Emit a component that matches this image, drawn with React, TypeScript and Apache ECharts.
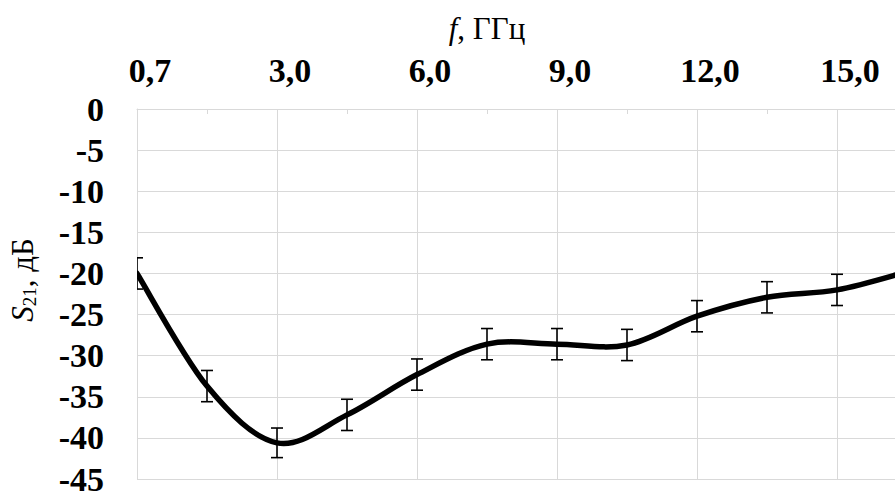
import React, { useEffect, useRef } from "react";
import * as echarts from "echarts";

const categories = ["0,7", "1,85", "3,0", "4,5", "6,0", "7,5", "9,0", "10,5", "12,0", "13,5", "15,0", "16,5"];
const s21 = [-20.0, -33.7, -40.6, -37.2, -32.3, -28.6, -28.6, -28.7, -25.2, -22.9, -22.0, -19.8];
const errors = [1.9, 1.9, 1.8, 1.9, 1.9, 1.9, 1.9, 1.9, 1.9, 1.9, 1.9, 1.9];
const yTicks = { min: -45, max: 0, interval: 5 };

const FONT = "'Liberation Serif', 'Times New Roman', serif";
const GRID = "#d9d9d9";

export default function App() {
  const ref = useRef<HTMLDivElement>(null);
  useEffect(() => {
    if (!ref.current) return;
    const chart = echarts.init(ref.current, null, { renderer: "svg" });
    chart.setOption({
      animation: false,
      backgroundColor: "#ffffff",
      grid: { left: 137, right: 53, top: 109, bottom: 11 },
      xAxis: {
        type: "category",
        position: "top",
        data: categories,
        boundaryGap: false,
        axisLine: { show: true, lineStyle: { color: GRID, width: 1 } },
        axisTick: { show: true, inside: true, length: 5, interval: 0, lineStyle: { color: GRID } },
        axisLabel: {
          interval: 1,
          color: "#000",
          fontFamily: FONT,
          fontWeight: "bold",
          fontSize: 34,
          margin: 22,
          padding: [0, 0, 0, 26],
        },
        splitLine: {
          show: true,
          interval: (i: number) => i % 2 === 0,
          lineStyle: { color: GRID, width: 1 },
        },
      },
      yAxis: {
        type: "value",
        min: yTicks.min,
        max: yTicks.max,
        interval: yTicks.interval,
        axisLine: { show: true, lineStyle: { color: GRID, width: 1 } },
        axisTick: { show: false },
        axisLabel: {
          color: "#000",
          fontFamily: FONT,
          fontWeight: "bold",
          fontSize: 34,
          margin: 33,
        },
        splitLine: { show: true, lineStyle: { color: GRID, width: 1 } },
      },
      graphic: [
        {
          type: "text",
          x: 487,
          y: 28,
          style: {
            text: "{i|f}, ГГц",
            align: "center",
            verticalAlign: "middle",
            fontFamily: FONT,
            fontSize: 31,
            fill: "#000",
            rich: {
              i: { fontFamily: FONT, fontSize: 31, fontStyle: "italic", fill: "#000" },
            },
          },
        },
        {
          type: "text",
          x: 22,
          y: 280,
          rotation: Math.PI / 2,
          style: {
            text: "{i|S}{sub|21}, дБ",
            align: "center",
            verticalAlign: "middle",
            fontFamily: FONT,
            fontSize: 31,
            fill: "#000",
            rich: {
              i: { fontFamily: FONT, fontSize: 31, fontStyle: "italic", fill: "#000", lineHeight: 34 },
              sub: { fontFamily: FONT, fontSize: 19, fill: "#000", verticalAlign: "bottom", lineHeight: 34, padding: [14, 0, 0, 0] },
            },
          },
        },
      ],
      series: [
        {
          type: "custom",
          clip: true,
          z: 3,
          encode: { x: 0, y: 1 },
          data: categories.map((_, i) => [i, s21[i]]),
          renderItem: (params: any, api: any) => {
            if (params.dataIndex !== 0) return null;
            const pts = s21.map((v, j) => api.coord([j, v]));
            const n = pts.length;
            let d = `M${pts[0][0]},${pts[0][1]}`;
            for (let j = 0; j < n - 1; j++) {
              const p0 = pts[Math.max(0, j - 1)];
              const p1 = pts[j];
              const p2 = pts[j + 1];
              const p3 = pts[Math.min(n - 1, j + 2)];
              const c1x = p1[0] + (p2[0] - p0[0]) / 6;
              const c1y = p1[1] + (p2[1] - p0[1]) / 6;
              const c2x = p2[0] - (p3[0] - p1[0]) / 6;
              const c2y = p2[1] - (p3[1] - p1[1]) / 6;
              d += ` C${c1x},${c1y} ${c2x},${c2y} ${p2[0]},${p2[1]}`;
            }
            return {
              type: "path",
              shape: { pathData: d },
              style: { stroke: "#000", lineWidth: 5.5, fill: "none", lineJoin: "round", lineCap: "round" },
            };
          },
        },
        {
          type: "custom",
          clip: true,
          z: 4,
          encode: { x: 0, y: 1 },
          data: categories.map((_, i) => [i, s21[i], errors[i]]),
          renderItem: (params: any, api: any) => {
            const x = api.value(0);
            const y = api.value(1);
            const e = api.value(2);
            const hi = api.coord([x, y + e]);
            const lo = api.coord([x, y - e]);
            const w = 6;
            const style = { stroke: "#000", lineWidth: 1.6 };
            return {
              type: "group",
              children: [
                { type: "line", shape: { x1: hi[0], y1: hi[1], x2: lo[0], y2: lo[1] }, style },
                { type: "line", shape: { x1: hi[0] - w, y1: hi[1], x2: hi[0] + w, y2: hi[1] }, style },
                { type: "line", shape: { x1: lo[0] - w, y1: lo[1], x2: lo[0] + w, y2: lo[1] }, style },
              ],
            };
          },
        },
      ],
    });
    return () => chart.dispose();
  }, []);
  return (
    <div style={{ position: "absolute", left: 0, top: 0, width: 895, height: 496, overflow: "hidden", background: "#fff" }}>
      <div ref={ref} style={{ width: 960, height: 496 }} />
    </div>
  );
}
